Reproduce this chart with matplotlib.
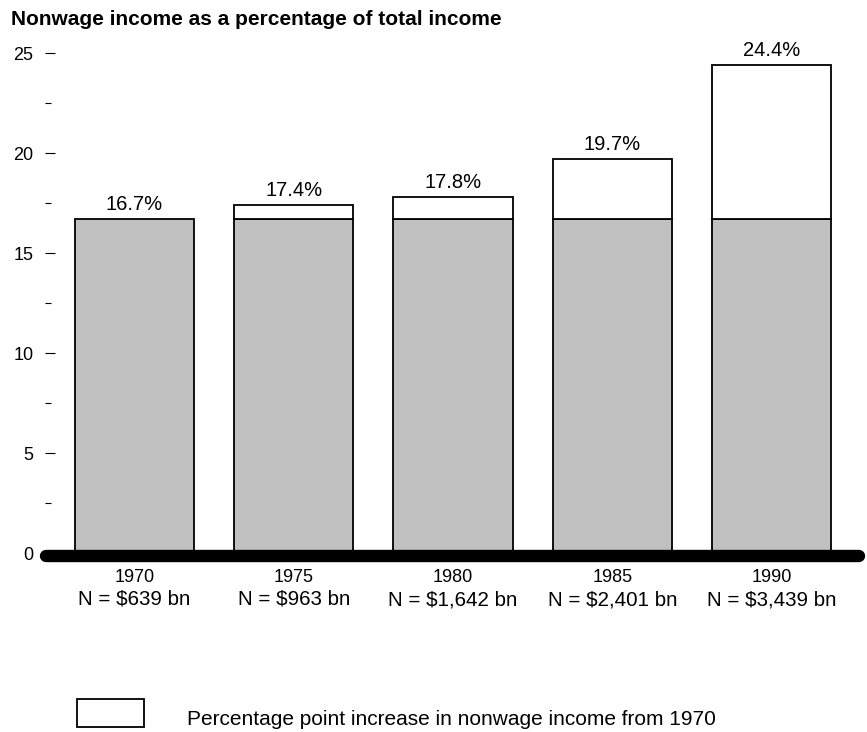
import matplotlib
matplotlib.use("Agg")
import matplotlib.pyplot as plt
from matplotlib.patches import Rectangle
from matplotlib.transforms import blended_transform_factory

plt.rcParams['font.family'] = ['Liberation Sans', 'DejaVu Sans']

years = ["1970", "1975", "1980", "1985", "1990"]
totals_bn = ["N = $639 bn", "N = $963 bn", "N = $1,642 bn", "N = $2,401 bn", "N = $3,439 bn"]
nonwage_pct = [16.7, 17.4, 17.8, 19.7, 24.4]
base_1970 = 16.7
title = "Nonwage income as a percentage of total income"
legend_label = "Percentage point increase in nonwage income from 1970"

W, H = 867, 732
fig = plt.figure(figsize=(W / 100, H / 100), dpi=100)
ax = fig.add_axes([40 / W, (H - 553.3) / H, 825 / W, 520 / H])

x = list(range(len(years)))
ax.bar(x, [base_1970] * len(x), width=0.75, color="#c0c0c0", edgecolor="black", linewidth=1.3, zorder=2)
inc = [v - base_1970 for v in nonwage_pct]
for xi, d in zip(x, inc):
    if d > 0:
        ax.bar(xi, d, bottom=base_1970, width=0.75, color="white", edgecolor="black", linewidth=1.3, zorder=2)

for xi, v in zip(x, nonwage_pct):
    ax.annotate(f"{v:.1f}%", (xi, v), xytext=(0, 7), textcoords="offset points",
                ha="center", va="baseline", fontsize=14.5)

ax.set_xlim(-0.593, 4.586)
ax.set_ylim(0, 26)

for s in ["top", "right", "bottom"]:
    ax.spines[s].set_visible(False)
ax.spines["left"].set_position(("data", -0.561))
ax.spines["left"].set_color("none")

ax.set_yticks([0, 5, 10, 15, 20, 25])
ax.set_yticks([2.5, 7.5, 12.5, 17.5, 22.5], minor=True)
ax.tick_params(axis="y", which="major", direction="in", length=7.2, width=0.8, pad=8.4, labelsize=13)
ax.tick_params(axis="y", which="minor", direction="in", length=4.2, width=0.8)

ax.set_xticks(x)
ax.set_xticklabels([])
ax.tick_params(axis="x", which="major", direction="in", length=6.5, width=0.8)

# thick baseline
ax.plot([-0.554, 4.547], [-0.11, -0.11], color="black", lw=8.9, solid_capstyle="round",
        clip_on=False, zorder=5)

tr = blended_transform_factory(ax.transData, fig.transFigure)
for xi, yr, nb in zip(x, years, totals_bn):
    ax.text(xi, 1 - 582 / H, yr, transform=tr, ha="center", va="baseline", fontsize=13)
    ax.text(xi, 1 - 605 / H, nb, transform=tr, ha="center", va="baseline", fontsize=14.8)

fig.text(11 / W, 1 - 25 / H, title, ha="left", va="baseline", fontsize=15, fontweight="bold")

fig.patches.append(Rectangle((77.3 / W, (H - 726.7) / H), 67 / W, 27.4 / H,
                             transform=fig.transFigure, facecolor="white",
                             edgecolor="black", linewidth=1.3, figure=fig))
fig.text(186.7 / W, 1 - 725 / H, legend_label, ha="left", va="baseline", fontsize=15)

fig.savefig("out.png", dpi=100)
